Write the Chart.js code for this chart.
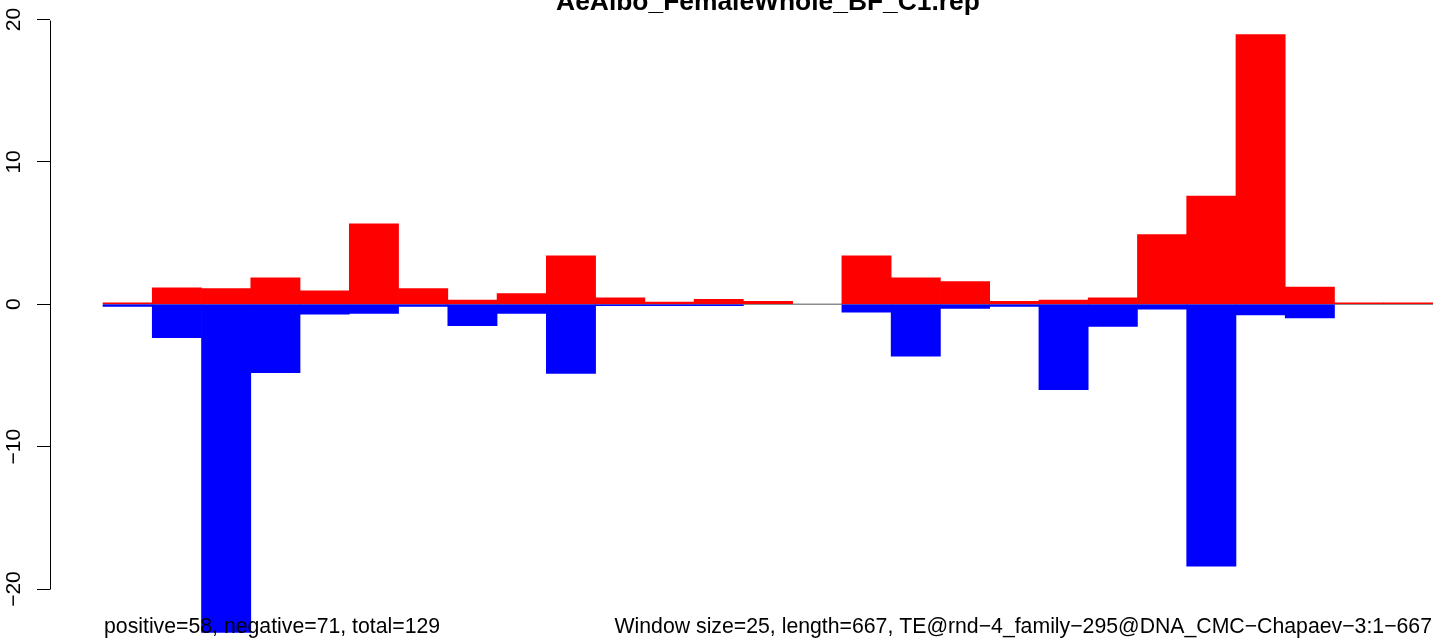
<!DOCTYPE html>
<html>
<head>
<meta charset="utf-8">
<title>AeAlbo_FemaleWhole_BF_C1.rep</title>
<script src="https://cdn.jsdelivr.net/npm/chart.js@4/dist/chart.umd.min.js"></script>
<style>
  html, body { margin: 0; padding: 0; background: #fff; }
  #wrap { width: 1444px; height: 644px; }
</style>
</head>
<body>
<div id="wrap"><canvas id="myChart" width="1444" height="644"></canvas></div>
<script>
'use strict';

// windows of 25bp along the TE (1..27)
let windows = [1, 2, 3, 4, 5, 6, 7, 8, 9, 10, 11, 12, 13, 14, 15, 16, 17, 18, 19, 20, 21, 22, 23, 24, 25, 26, 27];
// reads on the plus strand (drawn up, red)
let positiveCounts = [0.1, 1.15, 1.1, 1.85, 0.95, 5.65, 1.1, 0.3, 0.75, 3.4, 0.45, 0.15, 0.35, 0.2, 0, 3.4, 1.85, 1.6, 0.2, 0.3, 0.45, 4.9, 7.6, 18.95, 1.2, 0.1, 0.1];
// reads on the minus strand (drawn down, blue)
let negativeCounts = [-0.15, -2.35, -23.05, -4.8, -0.7, -0.65, -0.15, -1.5, -0.65, -4.85, -0.1, -0.1, -0.1, 0, 0, -0.55, -3.65, -0.3, -0.15, -6.0, -1.55, -0.35, -18.4, -0.75, -0.95, 0, 0];
let yTicks = [-20, -10, 0, 10, 20];

let chartTitle = 'AeAlbo_FemaleWhole_BF_C1.rep';
let leftNote = 'positive=58, negative=71, total=129';
let rightNote = 'Window size=25, length=667, TE@rnd\u22124_family\u2212295@DNA_CMC\u2212Chapaev\u22123:1\u2212667';

let fontFamily = '"Liberation Sans", Arial, Helvetica, sans-serif';

// empty windows get no bar at all (otherwise chart.js still paints a hairline)
function toPoints(values) {
  let points = [];
  for (let i = 0; i < windows.length; i++) {
    points.push({ x: windows[i], y: values[i] === 0 ? null : values[i] });
  }
  return points;
}

function rMinus(v) {
  return v < 0 ? '\u2212' + Math.abs(v) : String(v);
}

// R style axis line (only between first and last tick) + title and notes
let decorations = {
  id: 'decorations',
  afterDraw(chart) {
    let ctx = chart.ctx;
    let y = chart.scales.y;
    let x = chart.scales.x;
    let area = chart.chartArea;
    ctx.save();
    ctx.strokeStyle = '#000';
    ctx.lineWidth = 1;
    ctx.beginPath();
    ctx.moveTo(area.left + 0.5, Math.round(y.getPixelForValue(yTicks[yTicks.length - 1])) + 0.5);
    ctx.lineTo(area.left + 0.5, Math.round(y.getPixelForValue(yTicks[0])) + 0.5);
    ctx.stroke();

    let plotLeft = x.getPixelForValue(windows[0] - 0.5);
    let plotRight = x.getPixelForValue(windows[windows.length - 1] + 0.5);

    ctx.fillStyle = '#000';
    ctx.textBaseline = 'alphabetic';
    ctx.font = 'bold 26.4px ' + fontFamily;
    ctx.textAlign = 'center';
    ctx.fillText(chartTitle, (plotLeft + plotRight) / 2, 10);

    ctx.font = '21.25px ' + fontFamily;
    ctx.textAlign = 'left';
    ctx.fillText(leftNote, plotLeft + 1, 633);
    ctx.textAlign = 'right';
    ctx.fillText(rightNote, plotRight - 1, 633);
    ctx.restore();
  }
};

let chartConfig = {
  type: 'bar',
  data: {
    datasets: [{
      label: 'negative',
      data: toPoints(negativeCounts),
      backgroundColor: '#0000ff',
      borderWidth: 0,
      grouped: false,
      order: 1
    },
    {
      label: 'positive',
      data: toPoints(positiveCounts),
      backgroundColor: '#ff0000',
      borderWidth: 0,
      grouped: false,
      order: 2
    },
    {
      type: 'line',
      label: 'zero',
      data: [{ x: windows[0] - 0.5, y: 0 }, { x: windows[windows.length - 1] + 0.5, y: 0 }],
      borderColor: '#8c8c8c',
      borderWidth: 1.5,
      pointRadius: 0,
      order: 3
    }]
  },
  options: {
    responsive: false,
    animation: false,
    layout: { padding: { left: 0, right: 11, top: 0, bottom: 0 } },
    datasets: {
      bar: { categoryPercentage: 1, barPercentage: 1 }
    },
    plugins: {
      legend: { display: false },
      tooltip: { enabled: false },
      title: { display: false }
    },
    scales: {
      x: {
        type: 'linear',
        display: false,
        offset: false,
        min: -0.576,
        max: 27.5
      },
      y: {
        min: -23.86,
        max: 21.37,
        afterFit(scale) {
          scale.width = 50;
          scale.paddingTop = 0;
          scale.paddingBottom = 0;
        },
        afterBuildTicks(scale) {
          scale.ticks = yTicks.map(v => ({ value: v }));
        },
        border: { display: false },
        grid: {
          drawOnChartArea: false,
          drawTicks: true,
          tickLength: 13,
          color: '#000',
          lineWidth: 1
        },
        ticks: {
          minRotation: 90,
          maxRotation: 90,
          crossAlign: 'center',
          padding: 5,
          color: '#000',
          font: { family: fontFamily, size: 21 },
          callback: rMinus
        }
      }
    }
  },
  plugins: [decorations]
};

let ctx = document.getElementById('myChart').getContext('2d');
let myChart = new Chart(ctx, chartConfig); //eslint-disable-line
</script>
</body>
</html>
